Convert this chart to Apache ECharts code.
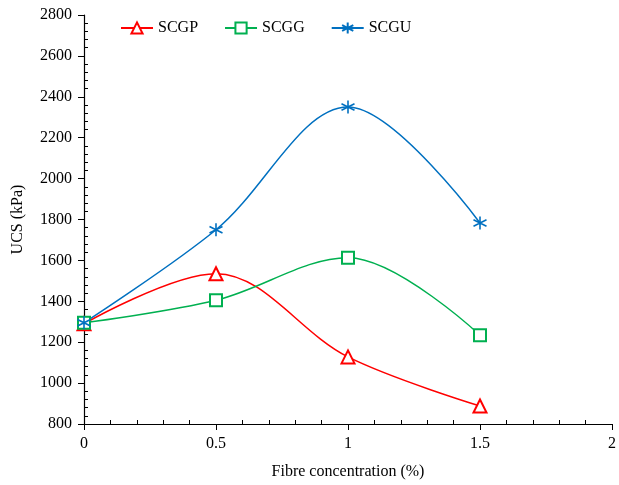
<!DOCTYPE html>
<html>
<head>
<meta charset="utf-8">
<script src="https://cdn.jsdelivr.net/npm/echarts@6/dist/echarts.min.js"></script>
<style>
  html, body { margin: 0; padding: 0; background: #fff; }
  #chart { width: 619px; height: 485px; }
</style>
</head>
<body>
<div id="chart"></div>
<script>
// data
const fibre = [0, 0.5, 1, 1.5];
const scgp = [1290, 1535, 1128, 888];
const scgg = [1295, 1405, 1613, 1234];
const scgu = [1295, 1750, 2350, 1783];

const asterisk = 'path://M0,-10 L0,10 M-8.66,-5 L8.66,5 M-8.66,5 L8.66,-5';
const font = 'Liberation Serif';

const pairs = arr => fibre.map((x, i) => [x, arr[i]]);

const myChart = echarts.init(document.getElementById('chart'));

const options = {
  animation: false,
  textStyle: { fontFamily: font, color: '#000' },
  legend: {
    top: 15,
    left: 115,
    itemWidth: 32,
    itemHeight: 14,
    itemGap: 26,
    textStyle: { fontFamily: font, fontSize: 16, color: '#000' },
    data: ['SCGP', 'SCGG', 'SCGU']
  },
  grid: { left: 84, right: 4, top: 15, bottom: 59 },
  xAxis: {
    type: 'value',
    min: 0,
    max: 2,
    interval: 0.5,
    name: 'Fibre concentration (%)',
    nameLocation: 'middle',
    nameGap: 40,
    nameTextStyle: { fontFamily: font, fontSize: 16, color: '#000' },
    axisLine: { lineStyle: { color: '#000', width: 1.2 } },
    axisTick: { show: true, length: 6, lineStyle: { color: '#000' } },
    minorTick: { show: true, splitNumber: 5, length: -4, lineStyle: { color: '#000' } },
    splitLine: { show: false },
    axisLabel: { fontFamily: font, fontSize: 16, color: '#000', margin: 12 }
  },
  yAxis: {
    type: 'value',
    min: 800,
    max: 2800,
    interval: 200,
    name: 'UCS (kPa)',
    nameLocation: 'middle',
    nameGap: 58,
    nameTextStyle: { fontFamily: font, fontSize: 16, color: '#000' },
    axisLine: { show: true, lineStyle: { color: '#000', width: 1.2 } },
    axisTick: { show: true, length: 6, lineStyle: { color: '#000' } },
    minorTick: { show: true, splitNumber: 5, length: -4, lineStyle: { color: '#000' } },
    splitLine: { show: false },
    axisLabel: { fontFamily: font, fontSize: 16, color: '#000', margin: 12, formatter: v => String(v) }
  },
  series: [
    {
      name: 'SCGP',
      type: 'line',
      smooth: 0.35,
      data: pairs(scgp),
      symbol: 'emptyTriangle',
      symbolSize: 13,
      lineStyle: { color: '#FF0000', width: 1.5 },
      itemStyle: { color: '#FF0000', borderWidth: 1.5 }
    },
    {
      name: 'SCGG',
      type: 'line',
      smooth: 0.35,
      data: pairs(scgg),
      symbol: 'emptyRect',
      symbolSize: 12,
      lineStyle: { color: '#00B050', width: 1.5 },
      itemStyle: { color: '#00B050', borderWidth: 1.5 }
    },
    {
      name: 'SCGU',
      type: 'line',
      smooth: 0.35,
      data: pairs(scgu),
      symbol: asterisk,
      symbolSize: 13,
      lineStyle: { color: '#0070C0', width: 1.5 },
      itemStyle: { color: '#0070C0', borderColor: '#0070C0', borderWidth: 1.6 }
    }
  ]
};

myChart.setOption(options);
</script>
</body>
</html>
